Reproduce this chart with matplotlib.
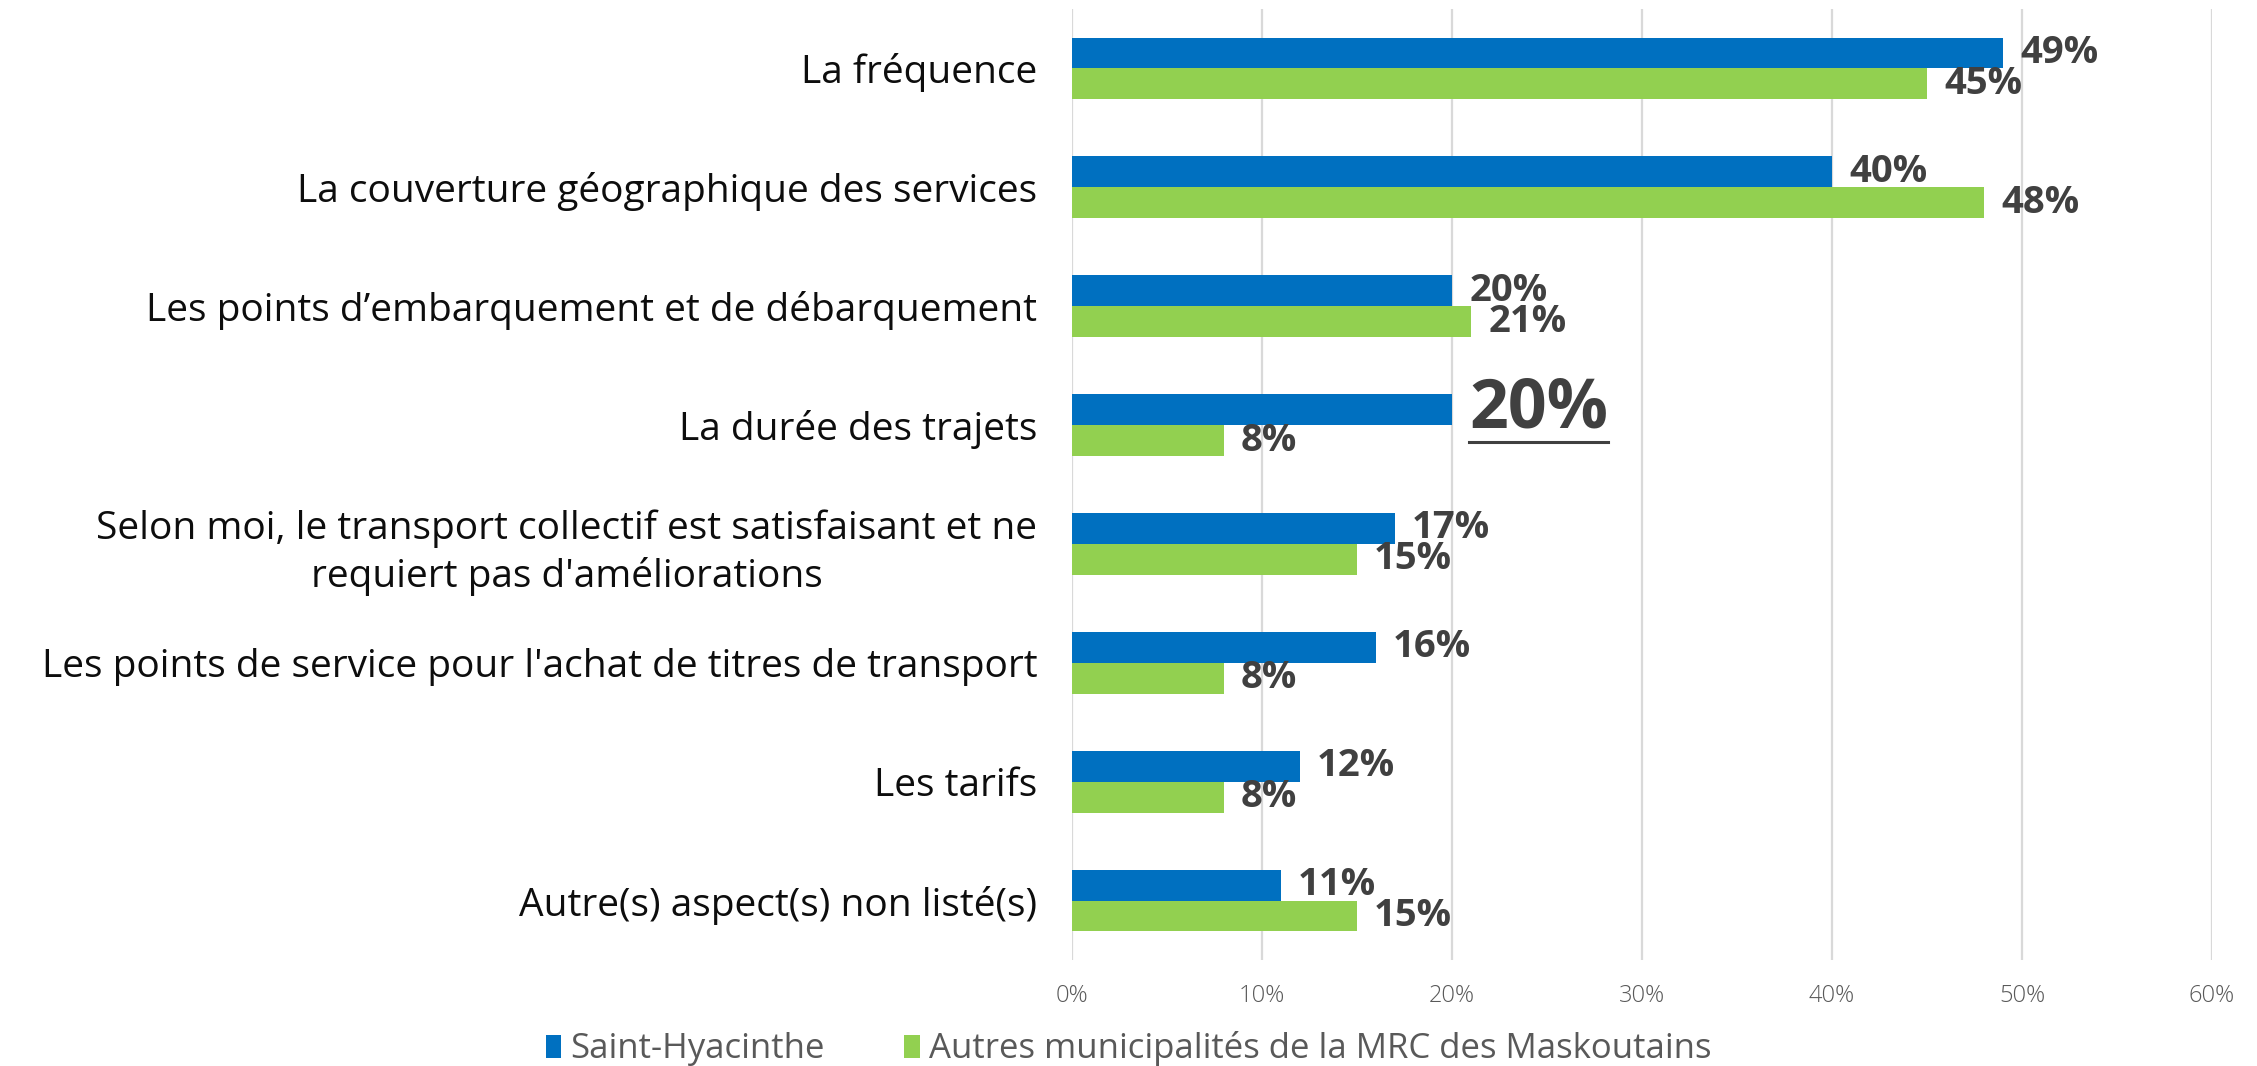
import matplotlib
matplotlib.use("Agg")
import matplotlib.pyplot as plt
from matplotlib.patches import Patch
from matplotlib.lines import Line2D
import numpy as np

categories = [
    "La fréquence",
    "La couverture géographique des services",
    "Les points d’embarquement et de débarquement",
    "La durée des trajets",
    "Selon moi, le transport collectif est satisfaisant et ne\nrequiert pas d'améliorations",
    "Les points de service pour l'achat de titres de transport",
    "Les tarifs",
    "Autre(s) aspect(s) non listé(s)",
]
saint_hyacinthe = [49, 40, 20, 20, 17, 16, 12, 11]
autres = [45, 48, 21, 8, 15, 8, 8, 15]
series_names = ["Saint-Hyacinthe", "Autres municipalités de la MRC des Maskoutains"]
xticks = [0, 10, 20, 30, 40, 50, 60]
highlight_index = 3  # label shown large & underlined (Saint-Hyacinthe)

BLUE = "#0070C0"
GREEN = "#92D050"
FONT = "Open Sans"

plt.rcParams["font.family"] = [FONT, "DejaVu Sans"]

W, H = 2257, 1066
fig = plt.figure(figsize=(W / 100, H / 100), dpi=100)
ax = fig.add_axes([1072 / W, 1 - 960 / H, (2212 - 1072) / W, (960 - 9) / H])

y = np.arange(len(categories))
bh = 0.26
ax.barh(y - bh / 2, saint_hyacinthe, height=bh, color=BLUE, zorder=3)
ax.barh(y + bh / 2, autres, height=bh, color=GREEN, zorder=3)

ax.set_xlim(0, 60)
ax.set_ylim(len(categories) - 0.5, -0.5)
ax.set_xticks(xticks)
ax.set_xticklabels([f"{t}%" for t in xticks], fontsize=17, color="#595959",
                   fontweight="light")
ax.tick_params(axis="x", length=0, pad=17)
ax.set_yticks(y)
ax.set_yticklabels(categories, fontsize=28, color="#0d0d0d", linespacing=1.3,
                   multialignment="center")
ax.tick_params(axis="y", length=0, pad=25)
ax.grid(axis="x", color="#D9D9D9", linewidth=1.6, zorder=0)
for s in ax.spines.values():
    s.set_visible(False)

offset = 0.9
labels = []
for i, (a, b) in enumerate(zip(saint_hyacinthe, autres)):
    if i == highlight_index:
        t = ax.text(a + offset, i - bh / 2, f"{a}%", va="center", ha="left",
                    fontsize=49, fontweight="bold", color="#404040", zorder=4)
        labels.append(t)
    else:
        ax.text(a + offset, i - bh / 2, f"{a}%", va="center", ha="left",
                fontsize=27.5, fontweight="bold", color="#404040", zorder=4)
    ax.text(b + offset, i + bh / 2, f"{b}%", va="center", ha="left",
            fontsize=27.5, fontweight="bold", color="#404040", zorder=4)

handles = [Patch(facecolor=BLUE), Patch(facecolor=GREEN)]
fig.legend(handles, series_names, loc="center", bbox_to_anchor=(0.5, 1 - 1049 / H),
           ncol=2, frameon=False, fontsize=25, labelcolor="#595959",
           handlelength=0.45, handleheight=0.65, handletextpad=0.25,
           columnspacing=2.3, borderpad=0.1)

# underline the highlighted label
fig.canvas.draw()
r = fig.canvas.get_renderer()
for t in labels:
    bb = t.get_window_extent(r)
    yline = bb.y0 + 2
    fig.add_artist(Line2D([bb.x0 / W, bb.x1 / W], [yline / H, yline / H],
                          color="#404040", linewidth=2.2))

fig.savefig("out.png", dpi=100)
